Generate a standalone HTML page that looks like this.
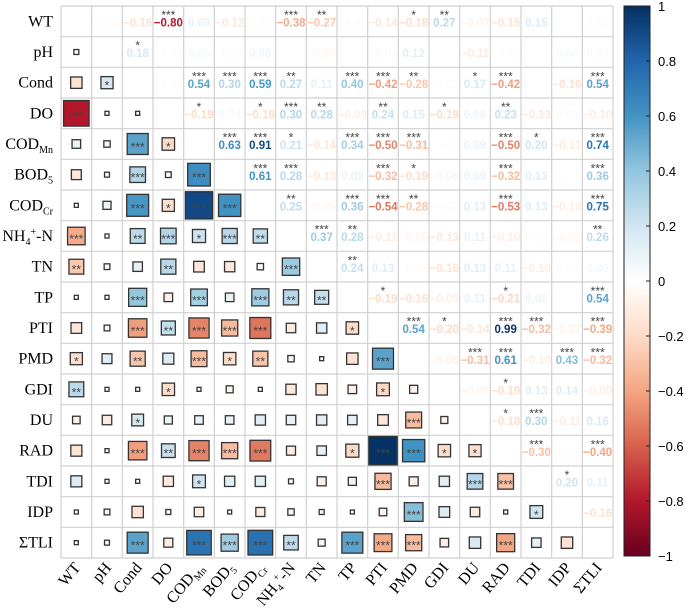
<!DOCTYPE html>
<html><head><meta charset="utf-8"><style>
body{margin:0;background:#fff;}
svg{display:block;}
</style></head><body>
<svg id="chart" width="685" height="615" xmlns="http://www.w3.org/2000/svg"></svg>
<script>
const labels = ["WT","pH","Cond","DO","CODMn","BOD5","CODCr","NH4N","TN","TP","PTI","PMD","GDI","DU","RAD","TDI","IDP","TLI"];
// upper triangle values per row (columns i+1..17)
const r0 = [-0.03,-0.16,-0.80,0.09,-0.12,0.02,-0.38,-0.27,-0.02,-0.14,-0.18,0.27,-0.07,-0.15,0.15,0.01,0.02];
const r1 = [0.18,-0.02,0.05,-0.03,0.08,0.01,-0.04,0.00,-0.04,0.12,0.01,-0.11,-0.02,0.01,0.04,0.03];
const r2 = [-0.02,0.54,0.30,0.59,0.27,0.11,0.40,-0.42,-0.28,-0.02,0.17,-0.42,0.01,-0.16,0.54];
const r3 = [-0.19,0.04,-0.18,0.30,0.28,-0.09,0.24,0.15,-0.19,0.08,0.23,-0.13,0.03,-0.10];
const r4 = [0.63,0.91,0.21,-0.14,0.34,-0.50,-0.31,-0.01,0.09,-0.50,0.20,-0.11,0.74];
const r5 = [0.61,0.28,-0.13,0.09,-0.32,-0.19,-0.06,0.09,-0.32,0.13,-0.01,0.36];
const r6 = [0.25,-0.05,0.36,-0.54,-0.28,-0.02,0.13,-0.53,0.13,-0.10,0.75];
const r7 = [0.37,0.28,-0.11,-0.05,-0.13,0.11,-0.10,0.03,-0.05,0.26];
const r8 = [0.24,0.13,-0.02,-0.16,0.13,0.11,-0.10,0.03,0.06];
const r9 = [-0.19,-0.16,-0.09,0.11,-0.21,0.08,0.01,0.54];
const r10 = [0.54,-0.20,-0.14,0.99,-0.32,-0.07,-0.39];
const r11 = [-0.08,-0.31,0.61,-0.10,0.43,-0.32];
const r12 = [-0.06,-0.19,0.13,0.14,-0.09];
const r13 = [-0.18,0.30,-0.11,0.16];
const r14 = [-0.30,-0.02,-0.40];
const r15 = [0.20,0.11];
const r16 = [-0.16];
// significance stars per row (same layout)
const s0 = [0,0,3,0,0,0,3,2,0,0,1,2,0,0,0,0,0];
const s1 = [1,0,0,0,0,0,0,0,0,0,0,0,0,0,0,0];
const s2 = [0,3,3,3,2,0,3,3,2,0,1,3,0,0,3];
const s3 = [1,0,1,3,2,0,2,0,1,0,2,0,0,0];
const s4 = [3,3,1,0,3,3,3,0,0,3,1,0,3];
const s5 = [3,3,0,0,3,1,0,0,3,0,0,3];
const s6 = [2,0,3,3,2,0,0,3,0,0,3];
const s7 = [3,2,0,0,0,0,0,0,0,2];
const s8 = [2,0,0,0,0,0,0,0,0];
const s9 = [1,0,0,0,1,0,0,3];
const s10 = [3,1,0,3,3,0,3];
const s11 = [0,3,3,0,3,3];
const s12 = [0,1,0,0,0];
const s13 = [1,3,0,0];
const s14 = [3,0,3];
const s15 = [1,0];
const s16 = [0];
const cbTicks = [1,0.8,0.6,0.4,0.2,0,-0.2,-0.4,-0.6,-0.8,-1];

const R=[r0,r1,r2,r3,r4,r5,r6,r7,r8,r9,r10,r11,r12,r13,r14,r15,r16];
const S=[s0,s1,s2,s3,s4,s5,s6,s7,s8,s9,s10,s11,s12,s13,s14,s15,s16];
const N=labels.length, X0=61, Y0=6, C=(558-6)/N;
const stops=["#67001F","#B2182B","#D6604D","#F4A582","#FDDBC7","#FFFFFF","#D1E5F0","#92C5DE","#4393C3","#2166AC","#053061"];
function hex(h){return [1,3,5].map(i=>parseInt(h.substr(i,2),16));}
function col(v){let t=(v+1)/2*10;let i=Math.min(9,Math.floor(t));let f=t-i;let a=hex(stops[i]),b=hex(stops[i+1]);
return "rgb("+a.map((x,k)=>Math.round(x+(b[k]-x)*f)).join(",")+")";}
const svg=document.getElementById('chart');const NS="http://www.w3.org/2000/svg";
function el(t,a,p){const e=document.createElementNS(NS,t);for(const k in a)e.setAttribute(k,a[k]);(p||svg).appendChild(e);return e;}
function xs(j){return X0+j*C;} function ys(i){return Y0+i*C;}
function val(i,j){if(i===j)return 1;const a=Math.min(i,j),b=Math.max(i,j);return R[a][b-a-1];}
function st(i,j){const a=Math.min(i,j),b=Math.max(i,j);return S[a][b-a-1];}
// grid
for(let k=0;k<=N;k++){
 const l1=el('line',{x1:xs(k),x2:xs(k),y1:Y0,y2:Y0+N*C,stroke:"#d0d0d0","stroke-width":1.2});
 
 
 const l2=el('line',{x1:X0,x2:X0+N*C,y1:ys(k),y2:ys(k),stroke:"#d0d0d0","stroke-width":1.2});
 
 
}
for(let i=0;i<N;i++)for(let j=0;j<N;j++){
 if(i===j)continue;
 const v=val(i,j),s=st(i,j),cx=xs(j)+C/2,cy=ys(i)+C/2;
 const stars="*".repeat(s);
 if(j>i){
  const t=el('text',{x:cx,y:ys(i)+20.5,"text-anchor":"middle","font-family":"Liberation Sans, sans-serif","font-size":11.5,"font-weight":"bold",fill:col(v)});
  t.textContent=(v<0?"\u2212":"")+Math.abs(v).toFixed(2);
  
  
  if(s){const t2=el('text',{x:cx,y:ys(i)+13,"text-anchor":"middle","font-family":"Liberation Sans, sans-serif","font-size":12,fill:"#444"});
   t2.textContent=stars;
   
   }
 } else {
  const sz=Math.max(4,Math.sqrt(Math.abs(v))*C*0.93);
  const r=el('rect',{x:cx-sz/2,y:cy-sz/2,width:sz,height:sz,fill:col(v),stroke:"#333","stroke-width":1.3});
  
  
  if(s){const t2=el('text',{x:cx,y:cy+7,"text-anchor":"middle","font-family":"Liberation Sans, sans-serif","font-size":12,fill:"#444"});
   t2.textContent=stars;
   
   }
 }
}
// labels
const lab={WT:"WT",pH:"pH",Cond:"Cond",DO:"DO",CODMn:'COD<tspan font-size="10" dy="4">Mn</tspan>',BOD5:'BOD<tspan font-size="10" dy="4">5</tspan>',CODCr:'COD<tspan font-size="10" dy="4">Cr</tspan>',NH4N:'NH<tspan font-size="10" dy="4">4</tspan><tspan font-size="10" dy="-10">+</tspan><tspan dy="6">-N</tspan>',TN:"TN",TP:"TP",PTI:"PTI",PMD:"PMD",GDI:"GDI",DU:"DU",RAD:"RAD",TDI:"TDI",IDP:"IDP",TLI:"\u03A3TLI"};
for(let i=0;i<N;i++){
 const t=el('text',{x:53,y:ys(i)+C/2+5,"text-anchor":"end","font-family":"Liberation Serif, serif","font-size":16,fill:"#000"});
 t.innerHTML=lab[labels[i]];
 
 
 const cx=xs(i)+C/2+5,cy=Y0+N*C+10;
 const b=el('text',{x:cx,y:cy,"text-anchor":"end","font-family":"Liberation Serif, serif","font-size":16,fill:"#000",transform:`rotate(-50 ${cx} ${cy})`});
 b.innerHTML=lab[labels[i]];
 
 
}
// colorbar
const defs=el('defs',{});const g=el('linearGradient',{id:"cb",x1:0,y1:1,x2:0,y2:0},defs);
stops.forEach((c,k)=>el('stop',{offset:k/10,"stop-color":c},g));
const CB0=6,CB1=556,CBX=624,CBW=26;
const cb=el('rect',{x:CBX,y:CB0,width:CBW,height:CB1-CB0,fill:"url(#cb)",stroke:"#222","stroke-width":1});


cbTicks.forEach(v=>{const y=CB0+(1-v)/2*(CB1-CB0);
 el('line',{x1:CBX+CBW-4,x2:CBX+CBW,y1:y,y2:y,stroke:"#222","stroke-width":1});
 const t=el('text',{x:658,y:y+5,"font-family":"Liberation Sans, sans-serif","font-size":13,fill:"#000"});
 t.textContent=(v<0?"\u2212":"")+String(Math.abs(v));
 
 
});
</script>
</body></html>
